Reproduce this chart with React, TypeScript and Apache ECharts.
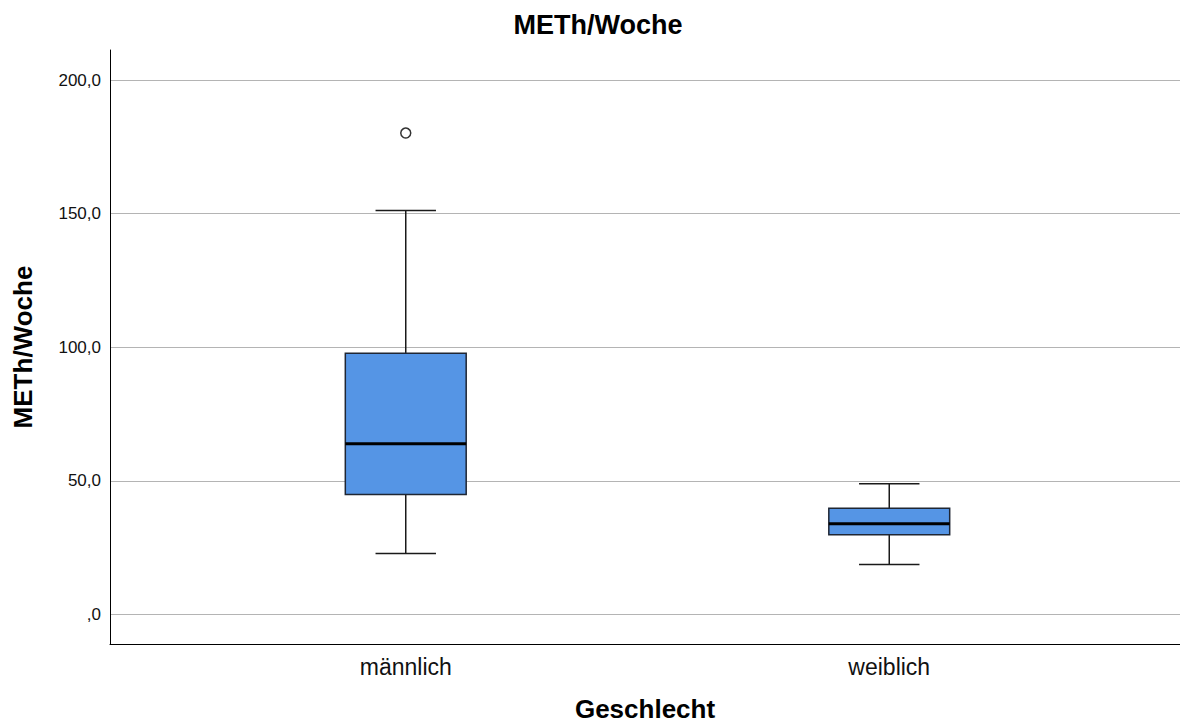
import React, { useEffect, useRef } from "react";
import * as echarts from "echarts";

const categories = ["männlich", "weiblich"];
// [min whisker, Q1, median, Q3, max whisker]
const boxValues = [
  [22.8, 44.9, 63.9, 97.8, 151.2],
  [18.7, 29.8, 33.9, 39.7, 48.9],
];
const outliers = [[0, 180.2]];
const yMin = -11.1;
const yMax = 211.3;

const FONT = "'Liberation Sans', Arial, Helvetica, sans-serif";

export default function App() {
  const ref = useRef<HTMLDivElement>(null);
  useEffect(() => {
    document.body.style.margin = "0";
    const chart = echarts.init(ref.current!, null, { renderer: "svg" });
    const boxData = boxValues.map((v, i) => [i, ...v]);
    chart.setOption({
      animation: false,
      textStyle: { fontFamily: FONT },
      title: {
        text: "METh/Woche",
        left: 593,
        top: 6,
        textAlign: "center",
        textStyle: { fontSize: 27, fontWeight: "bold", color: "#000", fontFamily: FONT },
      },
      grid: [
        { left: 110, right: 0, top: 50, bottom: 80, outerBoundsMode: "none", containLabel: false },
        { left: 164, right: 49, top: 50, bottom: 80, outerBoundsMode: "none", containLabel: false },
      ],
      xAxis: [
        {
          gridIndex: 0,
          type: "category",
          data: [""],
          axisLine: { show: true, onZero: false, lineStyle: { color: "#000", width: 1 } },
          axisTick: { show: false },
          axisLabel: { show: false },
          name: "Geschlecht",
          nameLocation: "middle",
          nameGap: 52,
          nameTextStyle: { fontSize: 26, fontWeight: "bold", color: "#000", fontFamily: FONT },
        },
        {
          gridIndex: 1,
          type: "category",
          data: categories,
          axisLine: { show: false, onZero: false },
          axisTick: { show: false },
          axisLabel: { fontSize: 23, color: "#111", margin: 11, fontFamily: FONT },
        },
      ],
      yAxis: [
        {
          gridIndex: 0,
          type: "value",
          min: yMin,
          max: yMax,
          axisLine: { show: true, onZero: false, lineStyle: { color: "#000", width: 1 } },
          axisTick: { show: false },
          axisLabel: {
            showMinLabel: false,
            showMaxLabel: false,
            fontSize: 17,
            color: "#111",
            margin: 9,
            fontFamily: FONT,
            formatter: (v: number) => {
              const s = v.toFixed(1).replace(".", ",");
              return s.startsWith("0,") ? s.slice(1) : s;
            },
          },
          splitLine: {
            show: true,
            showMinLine: false,
            showMaxLine: false,
            lineStyle: { color: "#b4b4b4", width: 1 },
          },
          name: "METh/Woche",
          nameLocation: "middle",
          nameGap: 74,
          nameTextStyle: { fontSize: 26, fontWeight: "bold", color: "#000", fontFamily: FONT },
        },
        {
          gridIndex: 1,
          type: "value",
          min: yMin,
          max: yMax,
          show: false,
          splitLine: { show: false },
        },
      ],
      series: [
        {
          type: "custom",
          xAxisIndex: 1,
          yAxisIndex: 1,
          data: boxData,
          encode: { x: 0, y: [1, 2, 3, 4, 5] },
          renderItem: (params: any, api: any) => {
            const idx = api.value(0);
            const band = api.size([1, 0])[0];
            const bw = band * 0.25;
            const cw = band * 0.125;
            const pMin = api.coord([idx, api.value(1)]);
            const pQ1 = api.coord([idx, api.value(2)]);
            const pMed = api.coord([idx, api.value(3)]);
            const pQ3 = api.coord([idx, api.value(4)]);
            const pMax = api.coord([idx, api.value(5)]);
            const cx = pMed[0];
            const lineStyle = { stroke: "#1a1a1a", lineWidth: 1.5 };
            return {
              type: "group",
              children: [
                { type: "line", shape: { x1: cx, y1: pMax[1], x2: cx, y2: pQ3[1] }, style: lineStyle },
                { type: "line", shape: { x1: cx, y1: pQ1[1], x2: cx, y2: pMin[1] }, style: lineStyle },
                { type: "line", shape: { x1: cx - cw / 2, y1: pMax[1], x2: cx + cw / 2, y2: pMax[1] }, style: lineStyle },
                { type: "line", shape: { x1: cx - cw / 2, y1: pMin[1], x2: cx + cw / 2, y2: pMin[1] }, style: lineStyle },
                {
                  type: "rect",
                  shape: { x: cx - bw / 2, y: pQ3[1], width: bw, height: pQ1[1] - pQ3[1] },
                  style: { fill: "#5595e5", stroke: "#1f2633", lineWidth: 1.5 },
                },
                {
                  type: "line",
                  shape: { x1: cx - bw / 2, y1: pMed[1], x2: cx + bw / 2, y2: pMed[1] },
                  style: { stroke: "#000", lineWidth: 3 },
                },
              ],
            };
          },
        },
        {
          type: "scatter",
          xAxisIndex: 1,
          yAxisIndex: 1,
          data: outliers,
          symbol: "circle",
          symbolSize: 10,
          itemStyle: { color: "#fff", borderColor: "#000", borderWidth: 1.5 },
        },
      ],
    });
    return () => chart.dispose();
  }, []);
  return <div ref={ref} style={{ width: 1180, height: 724 }} />;
}
